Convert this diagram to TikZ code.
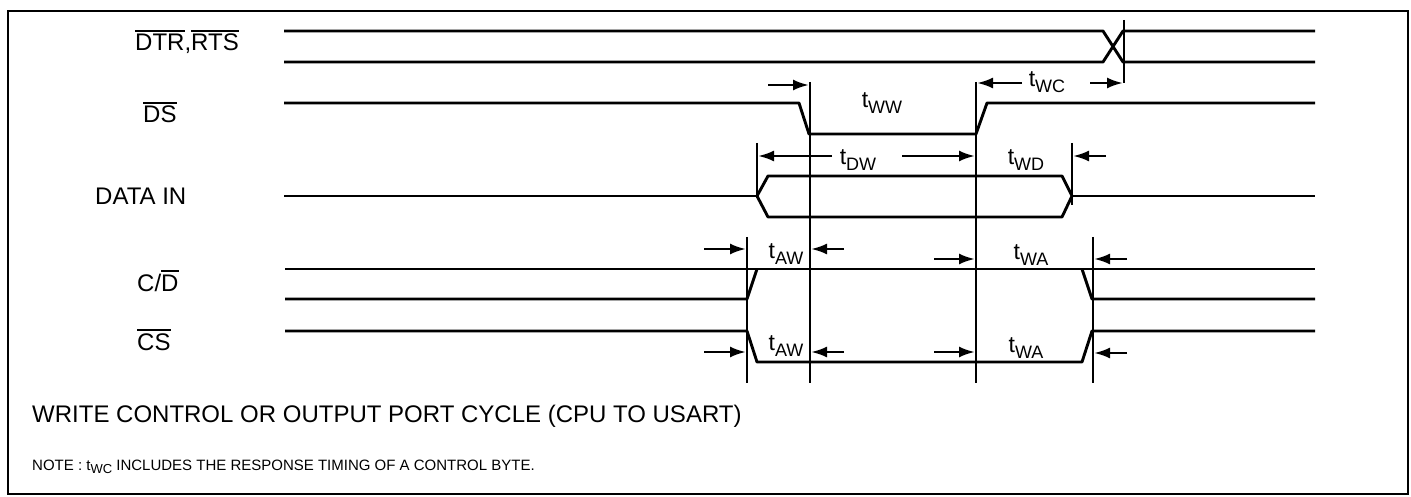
\documentclass[tikz,border=0pt]{standalone}
\usepackage{fontspec}
\setmainfont{Liberation Sans}
\usetikzlibrary{arrows.meta,positioning}

\newcommand{\ovl}[1]{\vbox{\hrule height 1.8pt\kern 2.2pt\hbox{#1}}}
\newcommand{\tsub}[1]{t\raisebox{-5.5pt}{\fontsize{18}{18}\selectfont #1}}
\newcommand{\tsubn}[1]{t\raisebox{-3pt}{\fontsize{13}{13}\selectfont #1}}

\begin{document}
\begin{tikzpicture}[x=1pt,y=-1pt,
        sig/.style={line width=2.9pt,line join=round},
        cutline/.style={line width=2.6pt},
        tarr/.style={-{Latex[length=16pt,width=11pt]},line width=2.6pt,shorten >=1pt},
        lbl/.style={font=\fontsize{24}{25}\selectfont,inner sep=0pt,anchor=base west},
        tlbl/.style={font=\fontsize{23}{24}\selectfont,inner sep=0pt}]
   \useasboundingbox (0,0) rectangle (1411,497);
   \draw[line width=2pt] (8,11) rectangle (1408,494);

   % signal names
   \node[lbl] (dtr) at (135,51) {\ovl{DTR},\ovl{RTS}};
   \node[lbl] (ds) at (143,123) {\ovl{DS}};
   \node[lbl] (din) at (95,205) {DATA IN};
   \node[lbl] (cd) at (137,291) {C/\ovl{D}};
   \node[lbl] (cs) at (137,350) {\ovl{CS}};

   % waveforms
   \draw[sig] (284,31) -- (1103,31) -- (1123,62) -- (1315,62);
   \draw[sig] (284,62) -- (1103,62) -- (1123,31) -- (1315,31);
   \draw[sig] (284,103) -- (799,103) -- (809,134) -- (976,134) -- (987,103) -- (1315,103);
   \draw[sig] (284,196) -- (757,196);
   \draw[sig] (757,196) -- (768,176) -- (1062,176) -- (1072,196) -- (1062,217) -- (768,217) -- cycle;
   \draw[sig] (1072,196) -- (1315,196);
   \draw[sig] (285,269) -- (1315,269);
   \draw[sig] (285,299) -- (747,299) -- (757,269);
   \draw[sig] (1082,269) -- (1092,299) -- (1315,299);
   \draw[sig] (285,331) -- (747,331) -- (757,362) -- (1082,362) -- (1092,331) -- (1315,331);

   % reference lines
   \coordinate (a1) at (747,237);  \coordinate (a2) at (747,383);
   \coordinate (w1) at (810,82);   \coordinate (w2) at (810,383);
   \coordinate (r1) at (976,82);   \coordinate (r2) at (976,383);
   \coordinate (b1) at (1093,237); \coordinate (b2) at (1093,383);
   \coordinate (d1) at (757,143);  \coordinate (d2) at (757,198);
   \coordinate (e1) at (1072,143); \coordinate (e2) at (1072,205);
   \coordinate (c1) at (1124,20);  \coordinate (c2) at (1124,83);
   \foreach \p/\q in {a1/a2,w1/w2,r1/r2,b1/b2,d1/d2,e1/e2,c1/c2}
      \draw[cutline] (\p) -- (\q);

   % timing labels
   \node[tlbl] (tww) at (882,103) {\tsub{WW}};
   \node[tlbl] (twc) at (1047,82) {\tsub{WC}};
   \node[tlbl] (tdw) at (858,160) {\tsub{DW}};
   \node[tlbl] (twd) at (1026,160) {\tsub{WD}};
   \node[tlbl] (taw1) at (786,254) {\tsub{AW}};
   \node[tlbl] (twa1) at (1031,255) {\tsub{WA}};
   \node[tlbl] (taw2) at (786,346) {\tsub{AW}};
   \node[tlbl] (twa2) at (1026,348) {\tsub{WA}};

   % arrow tails
   \coordinate (p1) at (768,85);
   \coordinate (p2) at (1022,83);
   \coordinate (p3) at (1090,83);
   \coordinate (p4) at (832,156);
   \coordinate (p5) at (902,156);
   \coordinate (p6) at (1106,156);
   \coordinate (p7) at (704,249);
   \coordinate (p8) at (844,249);
   \coordinate (p9) at (934,259);
   \coordinate (p10) at (1127,259);
   \coordinate (p11) at (704,352);
   \coordinate (p12) at (844,352);
   \coordinate (p13) at (934,352);
   \coordinate (p14) at (1127,353);
   \foreach \s/\v in {p1/w1,p2/r1,p3/c1,p4/d1,p5/r1,p6/e1,p7/a1,p8/w1,p9/r1,p10/b1,
                      p11/a1,p12/w1,p13/r1,p14/b1}
      \draw[tarr] (\s) -- (\s -| \v);

   % caption
   \node[lbl] (title) at (32,422) {WRITE CONTROL OR OUTPUT PORT CYCLE (CPU TO USART)};
   \node[lbl,font=\fontsize{15}{16}\selectfont] (note) at (32,470)
      {NOTE : \tsubn{WC} INCLUDES THE RESPONSE TIMING OF A CONTROL BYTE.};
\end{tikzpicture}
\end{document}
